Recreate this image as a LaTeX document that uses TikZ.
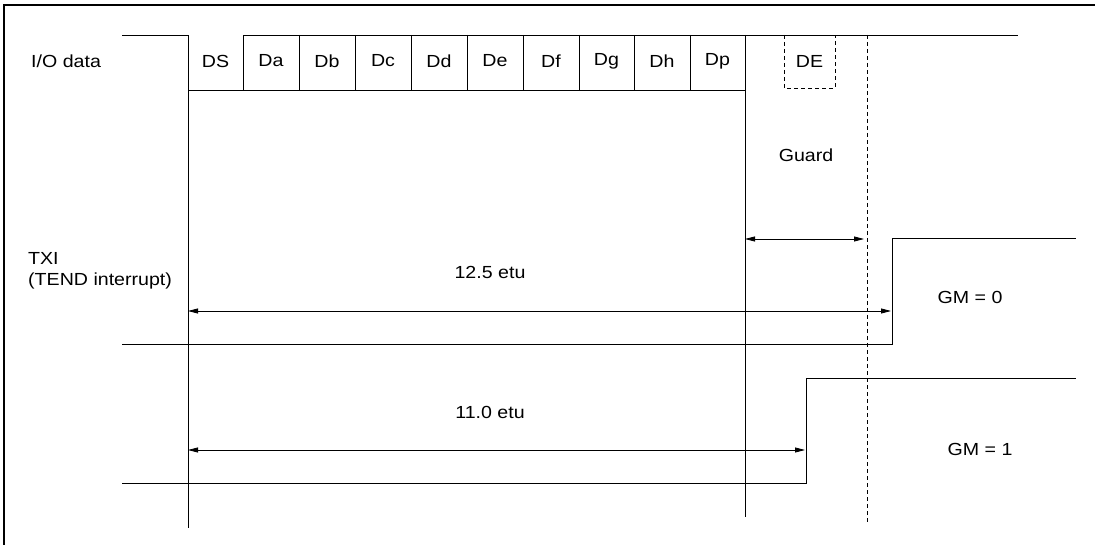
\documentclass[tikz,border=0pt]{standalone}
\usepackage{fontspec}
\setmainfont{Liberation Sans}[FakeStretch=1.12]
\usetikzlibrary{arrows.meta}
\begin{document}
\begin{tikzpicture}[x=1pt,y=-1pt,
  sig/.style={line width=0.9pt},
  thin/.style={line width=0.8pt},
  dsh/.style={line width=0.9pt,dash pattern=on 4pt off 3pt},
  dim/.style={line width=0.8pt,{Triangle[length=10pt,width=5pt]}-{Triangle[length=10pt,width=5pt]}},
  lbl/.style={font=\fontsize{17.5}{21}\selectfont,inner sep=0pt},
  cell/.style={lbl,anchor=center}]
\useasboundingbox (0,0) rectangle (1095,545);
% frame (top and left visible)
\draw[line width=2.6pt] (4,545) -- (4,5) -- (1095,5);
% I/O data waveform
\coordinate (i0) at (122,35);
\coordinate (i1) at (188,35);
\coordinate (v1b) at (188,528);
\draw[sig] (i0) -- (i1) -- (v1b);
\draw[sig] (243,90) -- (243,35) -- (1018,35);
\draw[sig] (188,90) -- (745,90);
\foreach \x in {299,355,411,467,523,579,634,690} \draw[sig] (\x,35) -- (\x,90);
\coordinate (v2t) at (745,35);
\coordinate (v2b) at (745,517);
\draw[thin] (v2t) -- (v2b);
\draw[dsh] (784,35) -- (784,88) -- (835,88) -- (835,35);
\coordinate (v3t) at (867,35);
\coordinate (v3b) at (867,522);
\draw[dsh] (v3t) -- (v3b);
% cell labels
\foreach \c/\x in {DS/215.5,Da/271,Db/327,Dc/383,Dd/439,De/495,Df/551,Dg/606.5,Dh/662,Dp/717.5,DE/809.5}
  \node[cell] (c\c) at (\x,61) {\c};
\node[lbl,anchor=west] (io) at (31,61) {I/O data};
\node[lbl] (guard) at (806,155) {Guard};
\node[lbl,anchor=west,align=left] (txi) at (28,271) {TXI\\(TEND interrupt)};
% guard dimension
\coordinate (g0) at (745,239);
\coordinate (g1) at (864,239);
\draw[dim] (g0) -- (g1);
% TXI GM=0
\coordinate (a0) at (122,344);
\coordinate (a1) at (892,344);
\coordinate (a2) at (892,238);
\coordinate (a3) at (1076,238);
\draw[sig] (a0) -- (a1) -- (a2) -- (a3);
\coordinate (d0) at (188,311);
\coordinate (d1) at (891,311);
\draw[dim] (d0) -- (d1);
\node[lbl] (e125) at (490,272) {12.5 etu};
\node[lbl] (gm0) at (970,297) {GM = 0};
% GM=1
\coordinate (b0) at (122,483);
\coordinate (b1) at (806,483);
\coordinate (b2) at (806,378);
\coordinate (b3) at (1076,378);
\draw[sig] (b0) -- (b1) -- (b2) -- (b3);
\coordinate (f0) at (188,450);
\coordinate (f1) at (805,450);
\draw[dim] (f0) -- (f1);
\node[lbl] (e110) at (490,412) {11.0 etu};
\node[lbl] (gm1) at (980,449) {GM = 1};
\end{tikzpicture}
\end{document}
